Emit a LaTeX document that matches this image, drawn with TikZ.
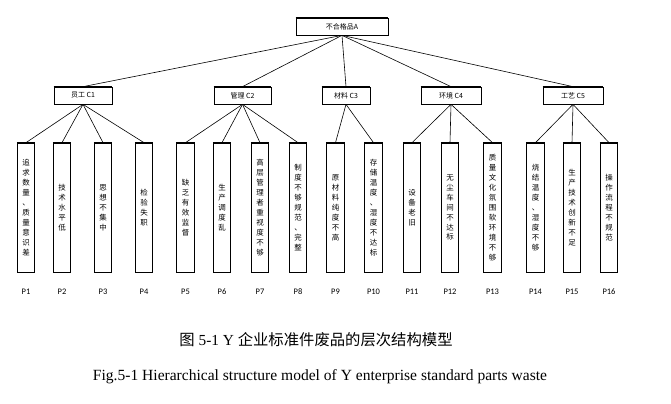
\documentclass[tikz,border=0pt]{standalone}
\usepackage{fontspec}
\setmainfont{Liberation Serif}
\newfontfamily\cjk{Noto Sans CJK SC}
\newfontfamily\boxfont{Carlito}
\usetikzlibrary{positioning}

\tikzset{
  goalbox/.style={draw, line width=0.7pt, minimum width=92bp, minimum height=17bp, inner sep=0pt, font=\cjk\fontsize{7}{8}\selectfont},
  critbox/.style={draw, line width=0.7pt, minimum height=17bp, inner sep=0pt, font=\cjk\fontsize{7}{8}\selectfont},
  leafbox/.style={draw, line width=0.7pt, minimum width=17.5bp, minimum height=129bp, inner sep=0pt, align=center, font=\cjk\fontsize{7.5}{10}\selectfont},
  leaflabel/.style={font=\boxfont\fontsize{8.5}{10}\selectfont},
  link/.style={line width=0.6pt},
}

\begin{document}
\begin{tikzpicture}[x=1bp,y=-1bp]
    \useasboundingbox (0,0) rectangle (671,403);
    % goal
    \node[goalbox] (A) at (342,26.5) {不合格品A};
    \draw[line width=1.4pt] (A.north west) -- (A.north east);
    % criteria
    \foreach \n/\x/\w/\lab in {1/83/58/员工, 2/242.5/57/管理, 3/346/48/材料, 4/451/60/环境, 5/573/60/工艺}
    {
        \node[critbox, minimum width=\w bp] (C\n) at (\x,95.5) {\lab\ C\n};
        \draw[line width=1.4pt] (C\n.north west) -- (C\n.north east);
    }
    % sub-criteria
    \foreach \n/\x/\lab in {1/26/{追\\求\\数\\量\\、\\质\\量\\意\\识\\差}, 2/62/{技\\术\\水\\平\\低},
        3/103/{思\\想\\不\\集\\中}, 4/144/{检\\验\\失\\职}, 5/185.5/{缺\\乏\\有\\效\\监\\督},
        6/222/{生\\产\\调\\度\\乱}, 7/260/{高\\层\\管\\理\\者\\重\\视\\度\\不\\够},
        8/298/{制\\度\\不\\够\\规\\范\\、\\完\\整}, 9/335.5/{原\\材\\料\\纯\\度\\不\\高},
        10/373.5/{存\\储\\温\\度\\、\\湿\\度\\不\\达\\标}, 11/412/{设\\备\\老\\旧},
        12/450/{无\\尘\\车\\间\\不\\达\\标}, 13/492.5/{质\\量\\文\\化\\氛\\围\\软\\环\\境\\不\\够},
        14/535.5/{烧\\结\\温\\度\\、\\湿\\度\\不\\够}, 15/572/{生\\产\\技\\术\\创\\新\\不\\足},
        16/609/{操\\作\\流\\程\\不\\规\\范}}
    {
        \node[leafbox] (P\n) at (\x,207.5) {\lab};
        \draw[line width=1.6pt] (P\n.north west) -- (P\n.north east);
        \node[leaflabel] (L\n) at (\x,292) {P\n};
    }

    \foreach \n in {1,...,5} \draw[link] (A.south) -- (C\n.north);
    \foreach \c/\p in {1/1,1/2,1/3,1/4,2/5,2/6,2/7,2/8,3/9,3/10,4/11,4/12,4/13,5/14,5/15,5/16}
        \draw[link] (C\c.south) -- (P\p.north);

    % captions
    \node (capcn) at (316,340) {\fontsize{15.4}{17}\selectfont{\cjk 图} 5-1 Y {\cjk 企业标准件废品的层次结构模型}};
    \node (capen) at (320,377) {\fontsize{15.6}{17}\selectfont Fig.5-1 Hierarchical structure model of Y enterprise standard parts waste};
\end{tikzpicture}
\end{document}
